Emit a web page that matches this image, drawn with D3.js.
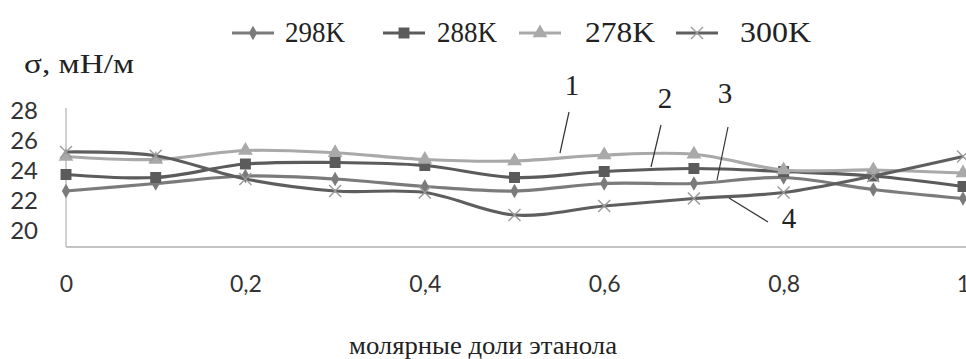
<!DOCTYPE html>
<html><head><meta charset="utf-8">
<script src="https://cdn.jsdelivr.net/npm/d3@7"></script>
<style>body{margin:0;background:#fff}svg{display:block}</style>
</head><body>
<svg id="c" width="966" height="359"></svg>
<script>
const xValues = [0, 0.1, 0.2, 0.3, 0.4, 0.5, 0.6, 0.7, 0.8, 0.9, 1.0];
const s298 = [22.6, 23.1, 23.6, 23.4, 22.9, 22.6, 23.1, 23.1, 23.5, 22.7, 22.1];
const s288 = [23.7, 23.5, 24.4, 24.5, 24.3, 23.5, 23.9, 24.1, 23.9, 23.6, 22.9];
const s278 = [24.9, 24.7, 25.3, 25.15, 24.7, 24.6, 25.0, 25.05, 24.0, 24.0, 23.8];
const s300 = [25.2, 24.95, 23.4, 22.6, 22.5, 21.0, 21.6, 22.1, 22.5, 23.6, 24.9];
const seriesNames = ["298K", "288K", "278K", "300K"];
const yTicks = [20, 22, 24, 26, 28];
const xTicks = [0, 0.2, 0.4, 0.6, 0.8, 1];
const xTickLabels = ["0", "0,2", "0,4", "0,6", "0,8", "1"];
const yTitle = "σ, мН/м";
const xTitle = "молярные доли этанола";
const curveLabels = ["1", "2", "3", "4"];

const series = [
  {name: seriesNames[0], values: s298, color: "#7b7b7b", mcolor: "#7b7b7b", marker: "diamond"},
  {name: seriesNames[1], values: s288, color: "#5b5b5b", mcolor: "#5b5b5b", marker: "square"},
  {name: seriesNames[2], values: s278, color: "#a9a9a9", mcolor: "#a9a9a9", marker: "triangle"},
  {name: seriesNames[3], values: s300, color: "#5e5e5e", mcolor: "#9a9a9a", marker: "cross"}
];

const svg = d3.select("#c");
const x = d3.scaleLinear().domain([0, 1]).range([66, 963]);
const y = d3.scaleLinear().domain([20, 28]).range([230, 110]);
const yBottom = 247;
const serif = "'Liberation Serif', 'Times New Roman', serif";
const sans = "Lato, 'Open Sans', sans-serif";

// axes
svg.append("line").attr("x1", 66).attr("x2", 66).attr("y1", 108).attr("y2", yBottom)
  .attr("stroke", "#c0c0c0").attr("stroke-width", 1.5);
svg.append("line").attr("x1", 66).attr("x2", 966).attr("y1", yBottom).attr("y2", yBottom)
  .attr("stroke", "#c4c4c4").attr("stroke-width", 2);

const yAxis = d3.axisLeft(y).tickValues(yTicks).tickSize(0).tickPadding(0).tickFormat(d3.format("d"));
const gy = svg.append("g").attr("transform", "translate(38,0)").call(yAxis);
gy.select(".domain").remove();
gy.selectAll("text").attr("font-family", sans).attr("font-size", 24).attr("fill", "#333").attr("dy", "0.36em");

const xAxis = d3.axisBottom(x).tickValues(xTicks).tickSize(0).tickPadding(0).tickFormat((d, i) => xTickLabels[i]);
const gx = svg.append("g").attr("transform", "translate(0,284)").call(xAxis);
gx.select(".domain").remove();
gx.selectAll("text").attr("font-family", sans).attr("font-size", 23).attr("fill", "#333").attr("dy", "0.36em");

// titles
svg.append("text").attr("x", 24).attr("y", 73).text(yTitle)
  .attr("font-family", serif).attr("font-size", 27).attr("fill", "#222")
  .attr("textLength", 110).attr("lengthAdjust", "spacingAndGlyphs");
svg.append("text").attr("x", 483).attr("y", 354).attr("text-anchor", "middle").text(xTitle)
  .attr("font-family", serif).attr("font-size", 26).attr("fill", "#222")
  .attr("textLength", 268).attr("lengthAdjust", "spacingAndGlyphs");

// markers
function drawMarker(g, type, cx, cy, color, scale) {
  const k = scale || 1;
  if (type === "diamond") {
    g.append("path").attr("d", d3.symbol(d3.symbolDiamond, 60 * k)()).attr("transform", `translate(${cx},${cy})`).attr("fill", color);
  } else if (type === "square") {
    g.append("path").attr("d", d3.symbol(d3.symbolSquare, 120 * k)()).attr("transform", `translate(${cx},${cy})`).attr("fill", color);
  } else if (type === "triangle") {
    g.append("path").attr("d", d3.symbol(d3.symbolTriangle, 95 * k)()).attr("transform", `translate(${cx},${cy})`).attr("fill", color);
  } else {
    const r = 6 * Math.sqrt(k);
    g.append("path").attr("d", `M${cx - r},${cy - r}L${cx + r},${cy + r}M${cx - r},${cy + r}L${cx + r},${cy - r}`)
      .attr("stroke", color).attr("stroke-width", 1.4).attr("fill", "none");
  }
}

const line = d3.line().x((d, i) => x(xValues[i])).y(d => y(d)).curve(d3.curveCatmullRom.alpha(0.5));
series.forEach(s => {
  const g = svg.append("g");
  g.append("path").attr("d", line(s.values)).attr("fill", "none").attr("stroke", s.color).attr("stroke-width", 3.2);
  s.values.forEach((v, i) => drawMarker(g, s.marker, x(xValues[i]), y(v), s.mcolor));
});

// legend
const legendPos = [[232, 285, 60], [383, 437, 60], [519, 585, 70], [676, 740, 71]];
series.forEach((s, i) => {
  const [lx, tx, tw] = legendPos[i];
  const g = svg.append("g");
  g.append("line").attr("x1", lx).attr("x2", lx + 42).attr("y1", 33).attr("y2", 33).attr("stroke", s.color).attr("stroke-width", 3);
  drawMarker(g, s.marker, lx + 21, 33, s.mcolor);
  g.append("text").attr("x", tx).attr("y", 42).text(s.name)
    .attr("font-family", serif).attr("font-size", 30).attr("fill", "#222")
    .attr("textLength", tw).attr("lengthAdjust", "spacingAndGlyphs");
});

// curve labels with pointers
const ann = [
  {t: curveLabels[0], tx: 572, ty: 95, x1: 569, y1: 112, x2: 560, y2: 153},
  {t: curveLabels[1], tx: 665, ty: 108, x1: 661, y1: 125, x2: 651, y2: 167},
  {t: curveLabels[2], tx: 725, ty: 103, x1: 728, y1: 127, x2: 717, y2: 180},
  {t: curveLabels[3], tx: 789, ty: 228, x1: 729, y1: 198, x2: 768, y2: 222}
];
ann.forEach(a => {
  svg.append("line").attr("x1", a.x1).attr("y1", a.y1).attr("x2", a.x2).attr("y2", a.y2).attr("stroke", "#333").attr("stroke-width", 1.2);
  svg.append("text").attr("x", a.tx).attr("y", a.ty).attr("text-anchor", "middle").text(a.t)
    .attr("font-family", serif).attr("font-size", 29).attr("fill", "#222");
});
</script>
</body></html>
